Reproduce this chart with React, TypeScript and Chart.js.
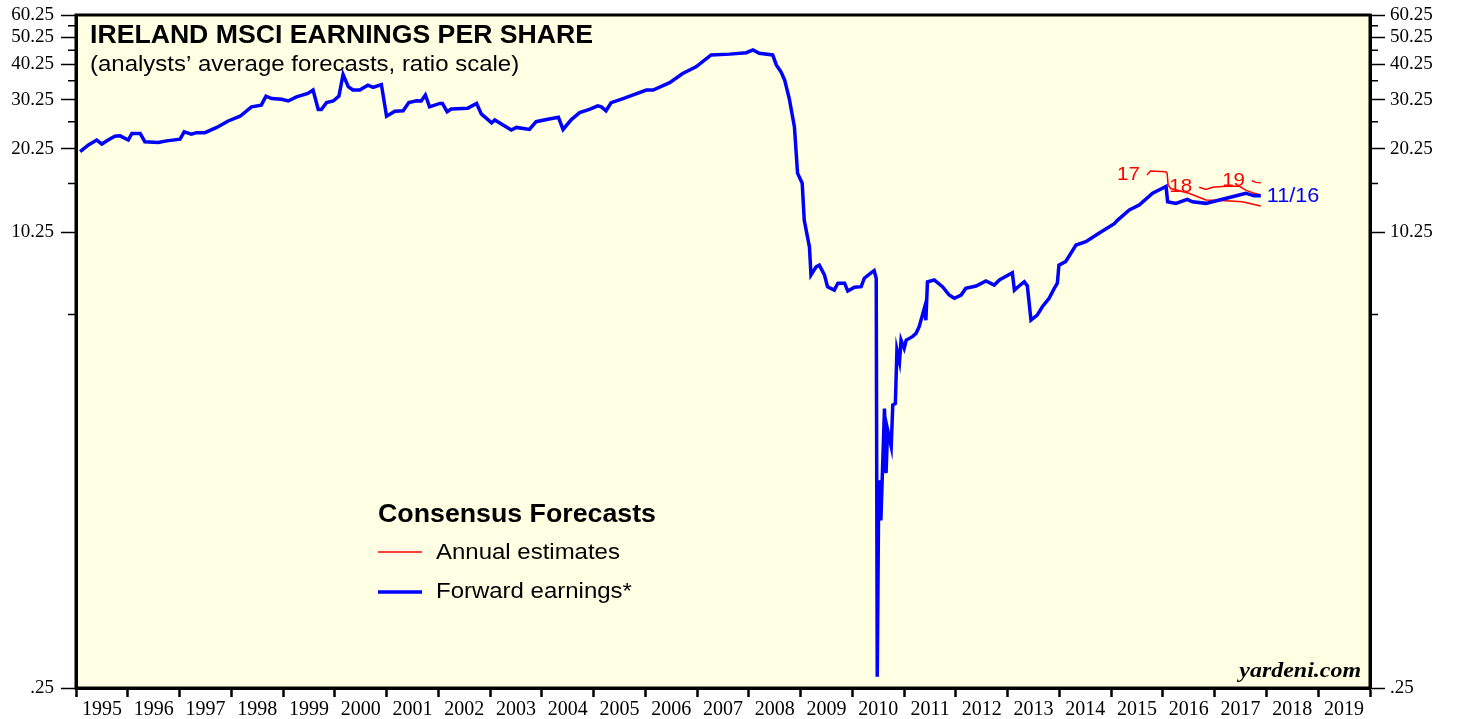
import React, { useEffect, useRef } from 'react';
import { Chart, registerables } from 'chart.js';
Chart.register(...registerables);

// ---- Data (decimal years / EPS values) ----
const fwdDates = [
  1995.08, 1995.24, 1995.40, 1995.50, 1995.62, 1995.75, 1995.85, 1996.01, 1996.08, 1996.24,
  1996.33, 1996.59, 1996.75, 1997.01, 1997.09, 1997.23, 1997.33, 1997.49, 1997.72, 1997.94,
  1998.17, 1998.39, 1998.58, 1998.67, 1998.78, 1998.97, 1999.10, 1999.26, 1999.48, 1999.58,
  1999.68, 1999.74, 1999.84, 1999.97, 2000.08, 2000.16, 2000.26, 2000.35, 2000.48, 2000.64,
  2000.74, 2000.90, 2001.00, 2001.16, 2001.32, 2001.43, 2001.58, 2001.67, 2001.75, 2001.83,
  2002.03, 2002.08, 2002.17, 2002.25, 2002.57, 2002.74, 2002.83, 2003.03, 2003.09, 2003.41,
  2003.51, 2003.76, 2003.89, 2004.09, 2004.32, 2004.41, 2004.57, 2004.73, 2004.92, 2005.08,
  2005.15, 2005.24, 2005.34, 2005.57, 2005.70, 2006.02, 2006.15, 2006.47, 2006.72, 2006.98,
  2007.27, 2007.63, 2007.95, 2008.08, 2008.20, 2008.46, 2008.53, 2008.62, 2008.69, 2008.78,
  2008.88, 2008.94, 2009.03, 2009.07, 2009.17, 2009.20, 2009.30, 2009.36, 2009.46, 2009.52,
  2009.65, 2009.72, 2009.85, 2009.91, 2010.04, 2010.17, 2010.23, 2010.36, 2010.42, 2010.46,
  2010.48, 2010.51, 2010.55, 2010.62, 2010.65, 2010.68, 2010.75, 2010.78, 2010.83, 2010.86,
  2010.91, 2010.94, 2011.00, 2011.04, 2011.16, 2011.23, 2011.29, 2011.39, 2011.42, 2011.45,
  2011.58, 2011.74, 2011.87, 2011.97, 2012.10, 2012.19, 2012.39, 2012.58, 2012.74, 2012.84,
  2013.09, 2013.13, 2013.22, 2013.32, 2013.38, 2013.45, 2013.57, 2013.67, 2013.80, 2013.90,
  2013.96, 2013.99, 2014.12, 2014.32, 2014.51, 2014.77, 2015.06, 2015.12, 2015.35, 2015.54,
  2015.80, 2016.06, 2016.09, 2016.25, 2016.47, 2016.57, 2016.83, 2017.09, 2017.34, 2017.60,
  2017.76, 2017.89,
];
const fwdValues = [
  19.8, 20.9, 21.75, 21.05, 21.75, 22.45, 22.5, 21.75, 22.95, 22.95,
  21.45, 21.3, 21.6, 21.9, 23.25, 22.8, 23.1, 23.1, 24.1, 25.4,
  26.4, 28.5, 28.9, 31.1, 30.5, 30.3, 29.9, 30.9, 31.8, 32.7,
  27.9, 27.9, 29.5, 29.9, 31.1, 37.1, 33.6, 32.7, 32.7, 34.0,
  33.4, 34.2, 26.4, 27.5, 27.6, 29.5, 29.95, 29.9, 31.4, 28.5,
  29.3, 29.3, 27.4, 28.0, 28.2, 29.3, 26.9, 25.0, 25.6, 23.6,
  24.1, 23.7, 25.25, 25.7, 26.2, 23.7, 25.7, 27.2, 27.9, 28.75,
  28.5, 27.6, 29.5, 30.5, 31.1, 32.7, 32.7, 34.7, 37.4, 39.5,
  43.5, 43.8, 44.3, 45.3, 44.1, 43.5, 40.1, 37.9, 35.5, 30.5,
  24.2, 16.6, 15.3, 11.3, 9.1, 7.24, 7.74, 7.85, 7.24, 6.58,
  6.4, 6.77, 6.77, 6.35, 6.55, 6.58, 7.05, 7.37, 7.5, 7.05,
  0.274, 1.36, 0.98, 2.44, 1.44, 2.05, 1.79, 2.51, 2.54, 3.93,
  3.57, 4.26, 3.98, 4.26, 4.38, 4.5, 4.75, 5.52, 5.01, 6.85,
  6.95, 6.58, 6.15, 5.99, 6.15, 6.49, 6.62, 6.9, 6.67, 6.95,
  7.37, 6.4, 6.62, 6.85, 6.62, 5.01, 5.22, 5.59, 5.99, 6.49,
  6.77, 7.85, 8.07, 9.24, 9.5, 10.2, 11.0, 11.3, 12.3, 12.8,
  14.1, 14.9, 13.15, 12.98, 13.4, 13.15, 12.98, 13.34, 13.7, 14.1,
  13.8, 13.8,
];

const est17Dates = [2015.69, 2015.76, 2016.05, 2016.08, 2016.10, 2016.15, 2016.50, 2016.83, 2017.22, 2017.53, 2017.89];
const est17Values = [16.35, 16.9, 16.8, 16.6, 15.07, 14.65, 14.1, 13.34, 13.26, 13.15, 12.7];
const est18Dates = [2016.70, 2016.83, 2016.96, 2017.15, 2017.47, 2017.60, 2017.76, 2017.89];
const est18Values = [14.8, 14.55, 14.8, 14.9, 14.95, 14.46, 14.1, 13.9];
const est19Dates = [2017.72, 2017.80, 2017.89];
const est19Values = [15.6, 15.4, 15.35];

const estLabels = ['17', '18', '19'];
const lastDateLabel = '11/16';

const yearLabels = [
  '1995', '1996', '1997', '1998', '1999', '2000', '2001', '2002', '2003', '2004',
  '2005', '2006', '2007', '2008', '2009', '2010', '2011', '2012', '2013', '2014',
  '2015', '2016', '2017', '2018', '2019',
];
const yTickValues = [0.25, 5.25, 10.25, 15.25, 20.25, 25.25, 30.25, 35.25, 40.25, 45.25, 50.25, 55.25, 60.25];
const yTickLabels = ['.25', '', '10.25', '', '20.25', '', '30.25', '', '40.25', '', '50.25', '', '60.25'];

const titleText = 'IRELAND MSCI EARNINGS PER SHARE';
const subtitleText = '(analysts\u2019 average forecasts, ratio scale)';
const legendTitle = 'Consensus Forecasts';
const legendItems = ['Annual estimates', 'Forward earnings*'];
const sourceText = 'yardeni.com';

const BLUE = 'rgb(0,0,255)';
const RED = 'rgb(255,0,0)';
const BG = '#FFFFE4';

const W = 1458;
const H = 719;
const PLOT_LEFT = 76;
const PLOT_RIGHT = 1370;
const PLOT_TOP = 15;
const PLOT_BOTTOM = 688;

const SANS = '"Liberation Sans", Arial, Helvetica, sans-serif';
const SERIF = '"Liberation Serif", "Times New Roman", serif';

const toPts = (xs: number[], ys: number[]) => xs.map((x, i) => ({ x, y: ys[i] }));

const xTickValues: number[] = [];
{
  const first = parseInt(yearLabels[0], 10);
  for (let i = 0; i <= yearLabels.length; i++) {
    xTickValues.push(first + i);
    if (i < yearLabels.length) xTickValues.push(first + i + 0.5);
  }
}

const labelFor = (v: number) => {
  const idx = yTickValues.findIndex((t) => Math.abs(t - v) < 1e-6);
  return idx >= 0 ? yTickLabels[idx] : '';
};
const isMajorY = (v: number) => labelFor(v) !== '';

const yAxisCommon = (position: 'left' | 'right') => ({
  type: 'logarithmic' as const,
  position,
  min: 0.25,
  max: 60.25,
  afterBuildTicks: (scale: any) => {
    scale.ticks = yTickValues.map((v) => ({ value: v }));
  },
  afterFit: (scale: any) => {
    scale.width = position === 'left' ? PLOT_LEFT : W - PLOT_RIGHT;
    scale.paddingTop = 0;
    scale.paddingBottom = 0;
  },
  border: { display: true, color: '#000', width: 3 },
  grid: {
    drawOnChartArea: false,
    drawTicks: true,
    tickLength: 15,
    tickWidth: 1.5,
    tickColor: (ctx: any) => (ctx.tick && isMajorY(ctx.tick.value) ? '#000' : 'rgba(0,0,0,0)'),
  },
  ticks: {
    autoSkip: false,
    padding: position === 'left' ? 7 : 5,
    color: '#000',
    font: { family: SERIF, size: 19 },
    callback: (v: any) => labelFor(Number(v)),
  },
});

function drawText(ctx: any, text: string, x: number, y: number, font: string, sx: number, align: 'left' | 'right' = 'left') {
  ctx.save();
  ctx.font = font;
  ctx.textBaseline = 'middle';
  ctx.textAlign = align;
  ctx.translate(x, y);
  ctx.scale(sx, 1);
  ctx.fillText(text, 0, 0);
  ctx.restore();
}

const decorPlugin = {
  id: 'decor',
  beforeDraw(chart: any) {
    const { ctx, chartArea: a } = chart;
    ctx.save();
    ctx.fillStyle = BG;
    ctx.fillRect(a.left, a.top, a.right - a.left, a.bottom - a.top);
    ctx.restore();
  },
  afterDraw(chart: any) {
    const { ctx, chartArea: a, scales } = chart;
    const xs = scales.x;
    const yl = scales.y;
    const yr = scales.y2;
    ctx.save();
    // minor y ticks (short)
    ctx.strokeStyle = '#000';
    ctx.lineWidth = 1.5;
    yTickValues.forEach((v) => {
      if (isMajorY(v)) return;
      const py = yl.getPixelForValue(v);
      const pr = yr.getPixelForValue(v);
      ctx.beginPath();
      ctx.moveTo(a.left - 8, py);
      ctx.lineTo(a.left, py);
      ctx.moveTo(a.right, pr);
      ctx.lineTo(a.right + 8, pr);
      ctx.stroke();
    });
    // frame
    ctx.lineWidth = 3;
    ctx.strokeStyle = '#000';
    ctx.strokeRect(a.left, a.top, a.right - a.left, a.bottom - a.top);

    // title block
    ctx.fillStyle = '#000';
    drawText(ctx, titleText, 90, 36, `bold 25px ${SANS}`, 1.065);
    drawText(ctx, subtitleText, 90, 65, `22px ${SANS}`, 1.09);

    // legend
    drawText(ctx, legendTitle, 378, 515, `bold 25px ${SANS}`, 1.07);
    drawText(ctx, legendItems[0], 436, 553, `22px ${SANS}`, 1.09);
    drawText(ctx, legendItems[1], 436, 592, `22px ${SANS}`, 1.09);
    ctx.lineCap = 'butt';
    ctx.strokeStyle = RED;
    ctx.lineWidth = 1.5;
    ctx.beginPath();
    ctx.moveTo(378, 552);
    ctx.lineTo(422, 552);
    ctx.stroke();
    ctx.strokeStyle = BLUE;
    ctx.lineWidth = 3.5;
    ctx.beginPath();
    ctx.moveTo(378, 592);
    ctx.lineTo(422, 592);
    ctx.stroke();

    // series labels
    ctx.fillStyle = RED;
    const estStarts = [
      [est17Dates[0], est17Values[0]],
      [est18Dates[0], est18Values[0]],
      [est19Dates[0], est19Values[0]],
    ];
    estStarts.forEach(([d, v], i) => {
      drawText(ctx, estLabels[i], xs.getPixelForValue(d) - 7, yl.getPixelForValue(v), `19px ${SANS}`, 1.08, 'right');
    });
    ctx.fillStyle = BLUE;
    const ld = fwdDates[fwdDates.length - 1];
    const lv = fwdValues[fwdValues.length - 1];
    drawText(ctx, lastDateLabel, xs.getPixelForValue(ld) + 6, yl.getPixelForValue(lv) + 1, `20px ${SANS}`, 1.08);

    // source
    ctx.fillStyle = '#000';
    drawText(ctx, sourceText, 1361, 672, `italic bold 21px ${SERIF}`, 1.14, 'right');
    ctx.restore();
  },
};

export default function App() {
  const ref = useRef<HTMLCanvasElement | null>(null);
  useEffect(() => {
    if (!ref.current) return;
    const chart = new Chart(ref.current, {
      type: 'line',
      data: {
        datasets: [
          {
            label: 'Forward earnings*',
            data: toPts(fwdDates, fwdValues),
            borderColor: BLUE,
            borderWidth: 3.5,
            pointRadius: 0,
            tension: 0,
            yAxisID: 'y',
          },
          {
            label: 'Annual estimates 17',
            data: toPts(est17Dates, est17Values),
            borderColor: RED,
            borderWidth: 1.5,
            pointRadius: 0,
            tension: 0,
            yAxisID: 'y',
          },
          {
            label: 'Annual estimates 18',
            data: toPts(est18Dates, est18Values),
            borderColor: RED,
            borderWidth: 1.5,
            pointRadius: 0,
            tension: 0,
            yAxisID: 'y',
          },
          {
            label: 'Annual estimates 19',
            data: toPts(est19Dates, est19Values),
            borderColor: RED,
            borderWidth: 1.5,
            pointRadius: 0,
            tension: 0,
            yAxisID: 'y',
          },
        ],
      },
      options: {
        animation: false,
        responsive: false,
        maintainAspectRatio: false,
        layout: { padding: { top: PLOT_TOP, left: 0, right: 0, bottom: 0 } },
        plugins: { legend: { display: false }, tooltip: { enabled: false }, title: { display: false } },
        scales: {
          x: {
            type: 'linear',
            position: 'bottom',
            min: parseInt(yearLabels[0], 10),
            max: parseInt(yearLabels[0], 10) + yearLabels.length,
            afterBuildTicks: (scale: any) => {
              scale.ticks = xTickValues.map((v) => ({ value: v }));
            },
            afterFit: (scale: any) => {
              scale.height = H - PLOT_BOTTOM;
              scale.paddingLeft = 0;
              scale.paddingRight = 0;
            },
            border: { display: true, color: '#000', width: 3 },
            grid: {
              drawOnChartArea: false,
              drawTicks: true,
              tickLength: 9,
              tickWidth: 2.5,
              tickColor: (ctx: any) =>
                ctx.tick && Number.isInteger(ctx.tick.value) ? '#000' : 'rgba(0,0,0,0)',
            },
            ticks: {
              autoSkip: false,
              maxRotation: 0,
              minRotation: 0,
              padding: 1,
              color: '#000',
              font: { family: SERIF, size: 20 },
              callback: (v: any) => {
                const n = Number(v);
                if (Number.isInteger(n)) return '';
                return yearLabels[Math.floor(n) - parseInt(yearLabels[0], 10)] ?? '';
              },
            },
          },
          y: yAxisCommon('left') as any,
          y2: yAxisCommon('right') as any,
        },
      },
      plugins: [decorPlugin],
    });
    return () => chart.destroy();
  }, []);
  return (
    <div style={{ position: 'fixed', left: 0, top: 0, width: W, height: H, background: '#fff' }}>
      <canvas ref={ref} width={W} height={H} style={{ width: W, height: H, display: 'block' }} />
    </div>
  );
}
